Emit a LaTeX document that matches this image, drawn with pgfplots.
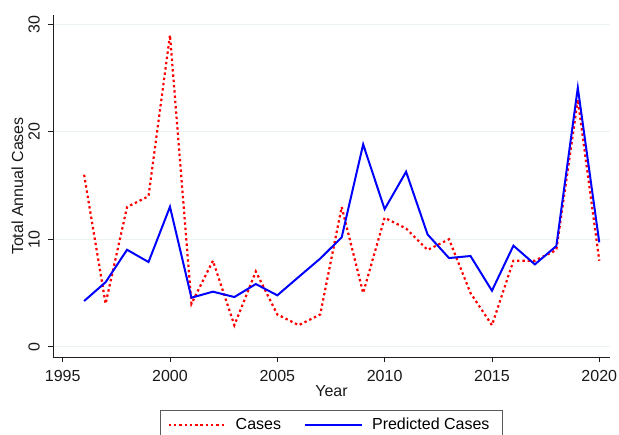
\documentclass[border=0pt]{standalone}
\usepackage{pgfplots}
\pgfplotsset{compat=1.18}
\usepackage{fontspec}
\setmainfont{Liberation Sans}
\definecolor{gridc}{RGB}{234,242,243}
\definecolor{axc}{RGB}{30,30,30}
\definecolor{legc}{RGB}{90,90,90}
\begin{document}
\fontsize{16bp}{19bp}\selectfont
\begin{tikzpicture}
\useasboundingbox (-53bp,-78bp) rectangle (566bp,357bp);
\begin{axis}[
 at={(0,0)}, anchor=south west,
 scale only axis, width=557bp, height=342bp,
 xmin=1994.55, xmax=2020.5, ymin=-0.96, ymax=30.87,
 axis lines*=left,
 axis line style={-, line width=0.9bp, axc},
 xtick={1995,2000,...,2020}, ytick={0,10,20,30},
 tick align=outside, major tick length=5bp,
 tick style={line width=0.9bp, axc},
 minor tick num=0,
 ymajorgrids, grid style={line width=1bp, gridc},
 /pgf/number format/assume math mode=true,
 /pgf/number format/1000 sep={},
 ticklabel style={font=\fontsize{16bp}{19bp}\selectfont, text=black!90},
 xticklabel shift=8bp, yticklabel shift=8bp,
 xticklabel style={anchor=north, inner sep=0pt},
 yticklabel style={rotate=90, anchor=south, inner sep=0pt},
 xlabel={Year}, ylabel={Total Annual Cases},
 label style={font=\fontsize{16bp}{19bp}\selectfont, text=black!90, inner sep=0pt},
 xlabel style={at={(axis description cs:0.5,0)}, anchor=north, yshift=-28bp},
 ylabel style={at={(axis description cs:-0.0637,0.5)}, anchor=center},
 legend columns=2,
 legend style={at={(axis description cs:0.5,0)}, anchor=north, yshift=-52.7bp,
   draw=legc, line width=1bp, inner xsep=7bp, inner ysep=8bp,
   font=\fontsize{16bp}{19bp}\selectfont,
   /tikz/every odd column/.append style={column sep=9bp},
   /tikz/every even column/.append style={column sep=23bp},
   nodes={inner sep=0pt}},
 legend image code/.code={\draw[#1] (0bp,0bp) -- (57bp,0bp);},
]
\addplot[red, line width=2.2bp, dash pattern=on 2.4bp off 2.9bp, mark=none] coordinates {
(1996,16) (1997,4) (1998,13) (1999,14) (2000,29) (2001,4) (2002,8) (2003,2)
(2004,7) (2005,3) (2006,2) (2007,3) (2008,13) (2009,5) (2010,12) (2011,11)
(2012,9) (2013,10) (2014,5) (2015,2) (2016,8) (2017,8) (2018,9) (2019,23) (2020,8)
};
\addplot[blue, line width=2bp, mark=none] coordinates {
(1996,4.25) (1997,6.0) (1998,9.02) (1999,7.88) (2000,13.02) (2001,4.56) (2002,5.12)
(2003,4.62) (2004,5.83) (2005,4.78) (2006,6.5) (2007,8.2) (2008,10.18) (2009,18.83)
(2010,12.8) (2011,16.28) (2012,10.45) (2013,8.25) (2014,8.44) (2015,5.21) (2016,9.4)
(2017,7.66) (2018,9.37) (2019,24.1) (2020,9.71)
};
\legend{Cases, Predicted Cases\hspace*{6bp}}
\end{axis}
\end{tikzpicture}
\end{document}
